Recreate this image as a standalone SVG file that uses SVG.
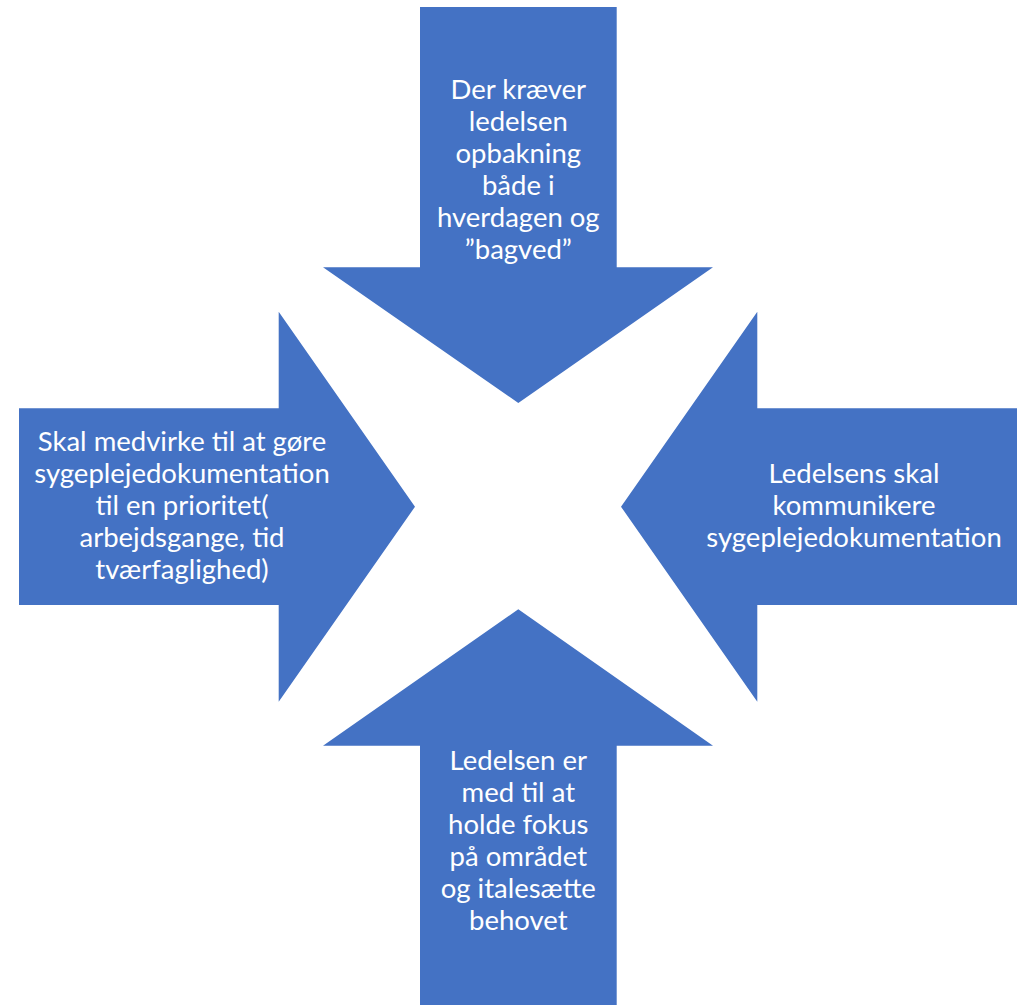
<svg xmlns="http://www.w3.org/2000/svg" width="1017" height="1005" viewBox="0 0 1017 1005">
<style>
.arrow{fill:#4472C4;stroke:none}
.lbl{fill:#FFFFFF;font-family:Lato,"Liberation Sans",sans-serif;font-size:27.5px;text-anchor:middle}
</style>
<rect width="1017" height="1005" fill="#FFFFFF"/>
<g id="arrow-top">
<polygon class="arrow" points="420,7 616.7,7 616.7,267.3 713,267.3 518.3,403 323,267.3 420,267.3"/>
<text class="lbl" x="518.3"><tspan x="518.3" y="99">Der kræver</tspan><tspan x="518.3" y="131">ledelsen</tspan><tspan x="518.3" y="163">opbakning</tspan><tspan x="518.3" y="195">både i</tspan><tspan x="518.3" y="227">hverdagen og</tspan><tspan x="518.3" y="259">”bagved”</tspan></text>
</g>
<g id="arrow-left">
<polygon class="arrow" points="19,408.3 278.7,408.3 278.7,311.7 415,506.7 278.7,701.7 278.7,605 19,605"/>
<text class="lbl" x="182"><tspan x="182" y="451">Skal medvirke til at gøre</tspan><tspan x="182" y="483">sygeplejedokumentation</tspan><tspan x="182" y="515">til en prioritet(</tspan><tspan x="182" y="547">arbejdsgange, tid</tspan><tspan x="182" y="579">tværfaglighed)</tspan></text>
</g>
<g id="arrow-right">
<polygon class="arrow" points="1017,408.3 757.3,408.3 757.3,311.7 621,506.7 757.3,701.7 757.3,605 1017,605"/>
<text class="lbl" x="854"><tspan x="854" y="483">Ledelsens skal</tspan><tspan x="854" y="515">kommunikere</tspan><tspan x="854" y="547">sygeplejedokumentation</tspan></text>
</g>
<g id="arrow-bottom">
<polygon class="arrow" points="420,1005 616.7,1005 616.7,745.7 713,745.7 518.3,609.3 323,745.7 420,745.7"/>
<text class="lbl" x="518.3"><tspan x="518.3" y="770">Ledelsen er</tspan><tspan x="518.3" y="802">med til at</tspan><tspan x="518.3" y="834">holde fokus</tspan><tspan x="518.3" y="866">på området</tspan><tspan x="518.3" y="898">og italesætte</tspan><tspan x="518.3" y="930">behovet</tspan></text>
</g>
<g id="connectors"></g>
</svg>
